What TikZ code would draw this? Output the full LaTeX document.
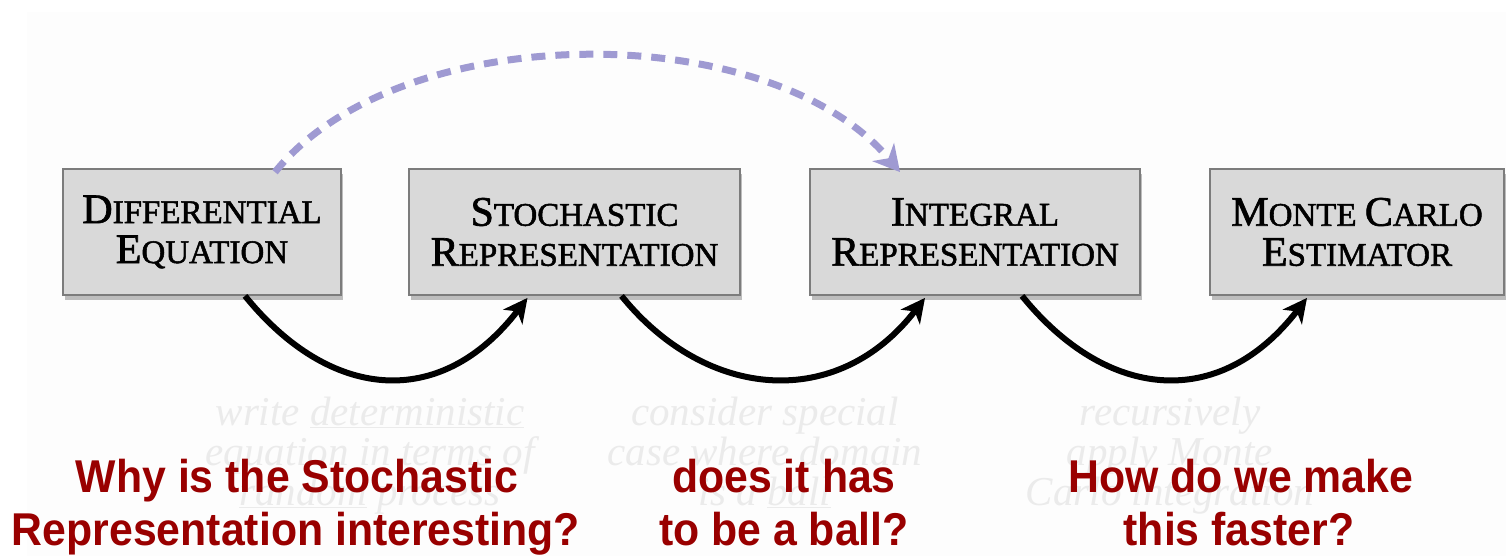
\documentclass[tikz,border=0pt]{standalone}
\usepackage{fontspec}
\setmainfont{Liberation Serif}
\newfontfamily\stagefont[FakeBold=1.6]{Liberation Serif}
\newfontfamily\qfont[FakeStretch=0.93]{Liberation Sans Bold}
\newfontfamily\notefont{Liberation Serif Italic}
\usetikzlibrary{arrows.meta,shadows}

\definecolor{boxfill}{HTML}{D9D9D9}
\definecolor{boxline}{HTML}{7C7C7C}
\definecolor{qred}{HTML}{990000}
\definecolor{jump}{HTML}{9F9AD2}
\definecolor{note}{HTML}{EBEBEB}
\definecolor{paper}{HTML}{FDFDFD}

% fake small caps: large initial, smaller capitals after it
\newcommand\scword[2]{{\fontsize{42}{40}\selectfont #1}{\fontsize{33}{40}\selectfont #2}}

\tikzset{
  stage/.style={draw=boxline, line width=1.8pt, fill=boxfill,
    minimum height=126pt, inner sep=0pt, align=center,
    font=\stagefont\fontsize{33}{40}\selectfont,
    drop shadow={shadow xshift=2pt, shadow yshift=-5pt, opacity=0.25, fill=black}},
  flow/.style={line width=6pt, -{Stealth[length=24pt,width=24pt,inset=7pt]}},
  leap/.style={draw=jump, line width=7pt, dash pattern=on 14pt off 10pt,
    -{Stealth[length=26pt,width=28pt,inset=8pt]}},
  question/.style={text=qred, font=\qfont\fontsize{46}{53}\selectfont, anchor=base, inner sep=0pt},
  noteline/.style={text=note, font=\notefont\fontsize{41}{40}\selectfont, anchor=base, inner sep=0pt}
}

\begin{document}
\begin{tikzpicture}[x=1pt, y=-1pt]
\useasboundingbox (0,0) rectangle (1506,556);
\fill[white] (0,0) rectangle (1506,556);
\fill[paper] (27,12) rectangle (1506,556);

% faint annotations under each transition
\node[noteline] (n1a) at (370,425) {write \underline{deterministic}};
\node[noteline] (n1b) at (370,465) {equation in terms of};
\node[noteline] (n1c) at (370,505) {\underline{random} process};
\node[noteline] (n2a) at (765,425) {consider special};
\node[noteline] (n2b) at (765,465) {case where domain};
\node[noteline] (n2c) at (765,505) {is a \underline{ball}};
\node[noteline] (n3a) at (1170,425) {recursively};
\node[noteline] (n3b) at (1170,465) {apply Monte};
\node[noteline] (n3c) at (1170,505) {Carlo integration};

% pipeline stages
\node[stage, minimum width=278pt] (b1) at (202,232) {\scword{D}{IFFERENTIAL}\\\scword{E}{QUATION}};
\node[stage, minimum width=331pt] (b2) at (574.5,232) {\scword{S}{TOCHASTIC}\\\scword{R}{EPRESENTATION}};
\node[stage, minimum width=330pt] (b3) at (975,232) {\scword{I}{NTEGRAL}\\\scword{R}{EPRESENTATION}};
\node[stage, minimum width=294pt] (b4) at (1357,232) {\scword{M}{ONTE} \scword{C}{ARLO}\\\scword{E}{STIMATOR}};

% transitions between stages
\draw[flow] ([xshift=43pt]b1.south) .. controls +(85,105) and +(-87,113) .. ([xshift=-47pt,yshift=-2pt]b2.south);
\draw[flow] ([xshift=47pt]b2.south) .. controls +(85,105) and +(-87,113) .. ([xshift=-50pt,yshift=-2pt]b3.south);
\draw[flow] ([xshift=47pt]b3.south) .. controls +(85,105) and +(-87,113) .. ([xshift=-50pt,yshift=-2pt]b4.south);

% shortcut from the equation straight to the integral form
\draw[leap] ([xshift=73pt,yshift=-4pt]b1.north) .. controls +(125,-155) and +(-130,-155) .. ([xshift=-75pt,yshift=-4pt]b3.north);

% questions
\node[question] (q1a) at (297,492) {Why is the Stochastic};
\node[question] (q1b) at (296,545) {Representation interesting?};
\node[question] (q2a) at (784,492) {does it has};
\node[question] (q2b) at (784,545) {to be a ball?};
\node[question] (q3a) at (1241,492) {How do we make};
\node[question] (q3b) at (1239,545) {this faster?};
\end{tikzpicture}
\end{document}
